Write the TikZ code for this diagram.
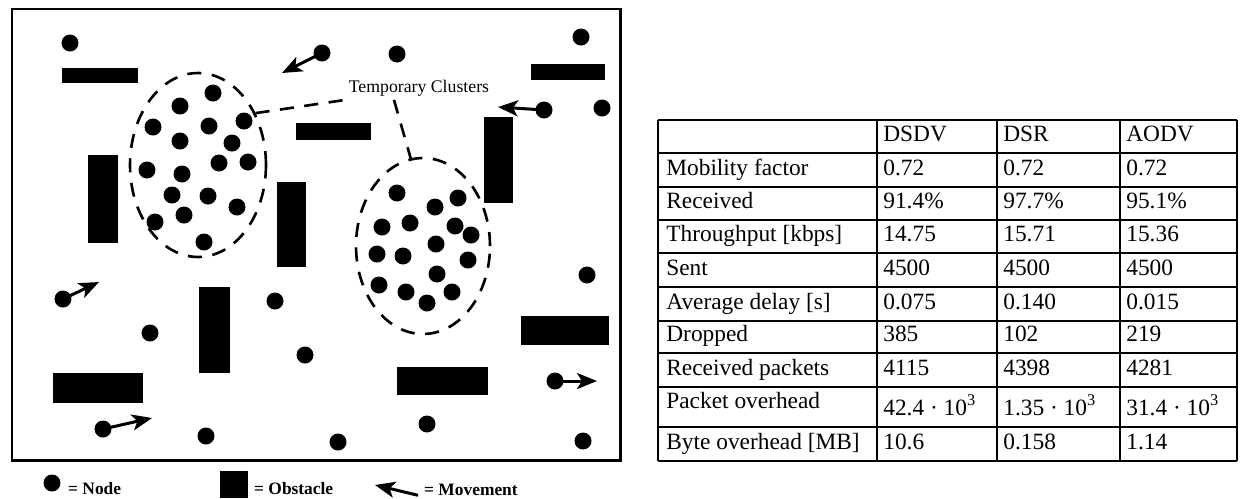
\documentclass[tikz,border=0pt]{standalone}
\usepackage{fontspec}
\setmainfont{Liberation Serif}
\usetikzlibrary{shapes.geometric,arrows.meta}
\tikzset{
  mnode/.style={circle,fill=black,inner sep=0pt,minimum size=0.34cm},
  clust/.style={ellipse,draw,line width=1.5pt,dash pattern=on 8pt off 6pt,inner sep=0pt},
  clink/.style={line width=1.5pt,dash pattern=on 8pt off 6pt},
  move/.style={line width=1.7pt,-{Stealth[length=0.4cm,width=0.32cm,inset=0.1cm]}},
  cell/.style={anchor=base west,inner sep=0pt,font=\fontsize{13.3}{16}\selectfont},
  legtxt/.style={anchor=west,font=\fontsize{9.9}{12}\selectfont\bfseries},
}

\begin{document}
\begin{tikzpicture}[x=0.02cm,y=-0.02cm]
\useasboundingbox (0,0) rectangle (1240,498);

\draw[line width=1.7pt] (12,9) rectangle (620,460);
\foreach \xa/\ya/\xb/\yb in {62/68/138/83, 531/64/605/80, 296/123/371/140, 88/155/118/243,
    277/182/306/267, 484/117/513/203, 199/287/230/373, 521/316/609/345, 397/367/488/395, 53/373/143/403}
  \fill (\xa,\ya) rectangle (\xb,\yb);

\foreach \x/\y [count=\i] in {70/43, 397/54, 581/37, 602/108, 150/333, 275/301, 305/355,
    206/436, 338/442, 427/424, 587/275, 583/441}
  \node[mnode] (n\i) at (\x,\y) {};

\node[mnode] (m1) at (322,53) {};
\node[mnode] (m2) at (544,110) {};
\node[mnode] (m3) at (63,299) {};
\node[mnode] (m4) at (103,429) {};
\node[mnode] (m5) at (555,381) {};
\coordinate (t1) at (282,73);
\coordinate (t2) at (498,107);
\coordinate (t3) at (99,282);
\coordinate (t4) at (152,418);
\coordinate (t5) at (597,381);
\foreach \i in {1,...,5}
  \draw[move] (m\i.center) -- (t\i);

\node[clust,minimum width=2.72cm,minimum height=3.68cm] (cl1) at (198,165) {};
\foreach \x/\y [count=\i] in {213/93, 180/106, 153/127, 209/126, 244/121, 180/141, 232/143, 147/170,
    219/163, 248/162, 182/174, 172/195, 208/196, 237/207, 155/222, 184/215, 204/242}
  \node[mnode] (a\i) at (\x,\y) {};

\node[clust,minimum width=2.68cm,minimum height=3.52cm] (cl2) at (423,246) {};
\foreach \x/\y [count=\i] in {397/193, 458/198, 435/207, 382/227, 410/223, 455/226, 471/235, 436/244,
    377/254, 403/256, 468/260, 437/274, 379/285, 406/292, 452/292, 427/303}
  \node[mnode] (b\i) at (\x,\y) {};

\node[anchor=west,inner sep=2pt,font=\fontsize{10.1}{12}\selectfont] (tc) at (345,88) {Temporary Clusters};
\draw[clink] (cl1.42) -- (tc.south west);
\draw[clink] ([xshift=-0.5cm]tc.south) -- (cl2.98);

\node[mnode] (lgn) at (52,483) {};
\node[legtxt] (lgnt) at (62,489) {= Node};
\fill (220,471) rectangle (248,498);
\node[legtxt] (lgot) at (248,489) {= Obstacle};
\coordinate (lgtip) at (375,485);
\node[legtxt] (lgmv) at (418,490) {= Movement};
\draw[move] ([yshift=-3pt]lgmv.west) -- (lgtip);

\foreach \y in {120,153,187,220,253,287,321,353,387,427,461}
  \draw[line width=1.1pt] (658,\y) -- (1237,\y);
\foreach \x in {658,877,997,1120,1237}
  \draw[line width=1.1pt] (\x,120) -- (\x,461);

\node[cell] (hd1) at (883,141) {DSDV};
\node[cell] (hd2) at (1003,141) {DSR};
\node[cell] (hd3) at (1126,141) {AODV};
\foreach \yl/\yv/\lab/\va/\vb/\vc [count=\r] in {
    175/175/Mobility factor/0.72/0.72/0.72,
    208/208/Received/91.4\%/97.7\%/95.1\%,
    241/241/Throughput [kbps]/14.75/15.71/15.36,
    275/275/Sent/4500/4500/4500,
    309/309/Average delay [s]/0.075/0.140/0.015,
    341/341/Dropped/385/102/219,
    375/375/Received packets/4115/4398/4281,
    408/415/Packet overhead/42.4 · 10\textsuperscript{3}/1.35 · 10\textsuperscript{3}/31.4 · 10\textsuperscript{3},
    449/449/Byte overhead [MB]/10.6/0.158/1.14}
{
  \node[cell] (lab\r) at (666,\yl) {\lab};
  \node[cell] (dsdv\r) at (883,\yv) {\va};
  \node[cell] (dsr\r) at (1003,\yv) {\vb};
  \node[cell] (aodv\r) at (1126,\yv) {\vc};
}
\end{tikzpicture}
\end{document}
